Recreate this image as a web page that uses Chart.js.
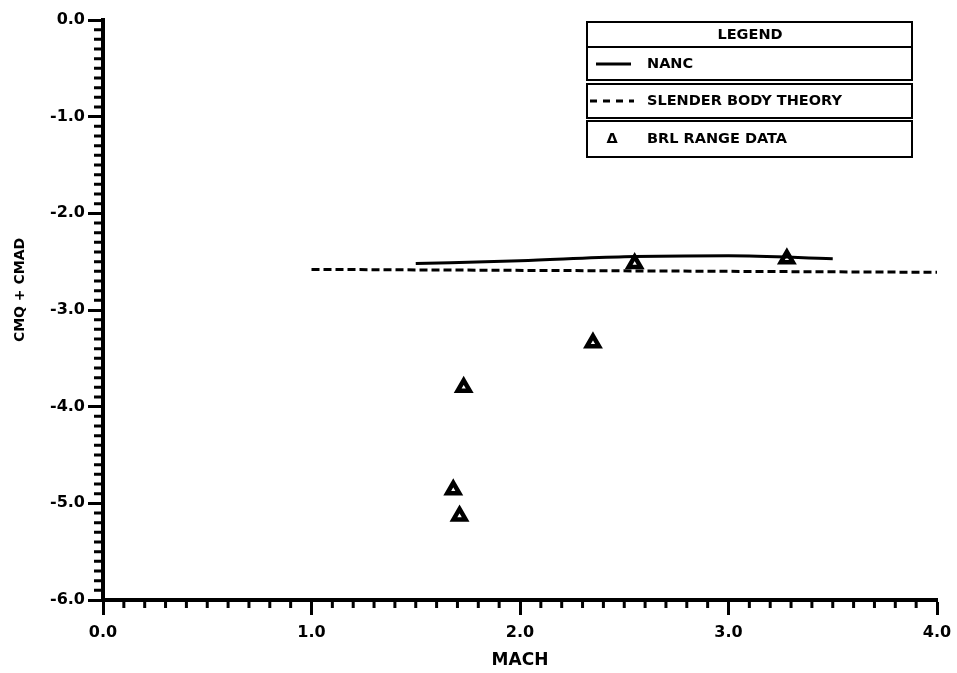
<!DOCTYPE html>
<html>
<head>
<meta charset="utf-8">
<script src="https://cdn.jsdelivr.net/npm/chart.js@4"></script>
<style>
  html, body { margin: 0; padding: 0; background: #fff; }
  #wrap { width: 957px; height: 673px; }
</style>
</head>
<body>
<div id="wrap"><canvas id="cmqChart" width="957" height="673"></canvas></div>
<script>
// NANC prediction
const nancMach = [1.5, 2.0, 2.5, 3.0, 3.5];
const nancCmq = [-2.52, -2.49, -2.45, -2.44, -2.47];

// slender body theory
const sbtMach = [1.0, 4.0];
const sbtCmq = [-2.58, -2.61];

// BRL range data
const brlMach = [2.55, 3.28, 2.35, 1.73, 1.68, 1.71];
const brlCmq = [-2.52, -2.47, -3.34, -3.80, -4.86, -5.13];

const xTicks = [0, 1, 2, 3, 4];
const yTicks = [0, -1, -2, -3, -4, -5, -6];

const legendRows = ['NANC', 'SLENDER BODY THEORY', 'BRL RANGE DATA'];
const yTitle = 'CMQ + CMAD';

const boldFont = '"DejaVu Sans", sans-serif';

function toPoints(xs, ys) {
    return xs.map((x, i) => ({ x: x, y: ys[i] }));
}

// minor ticks every 0.1 along both axes
const minorTicks = {
    id: 'minorTicks',
    afterDraw(chart) {
        const ctx = chart.ctx;
        const xs = chart.scales.x, ys = chart.scales.y;
        ctx.save();
        ctx.strokeStyle = '#000';
        ctx.lineWidth = 3;
        ctx.beginPath();
        for (let i = 1; i < 40; i++) {
            if (i % 10 === 0) continue;
            const px = xs.getPixelForValue(i / 10);
            ctx.moveTo(px, xs.top);
            ctx.lineTo(px, xs.top + 8);
        }
        for (let i = 1; i < 60; i++) {
            if (i % 10 === 0) continue;
            const py = ys.getPixelForValue(-i / 10);
            ctx.moveTo(ys.right, py);
            ctx.lineTo(ys.right - 9, py);
        }
        ctx.stroke();

        // y axis title, sits a bit above the middle in the original
        ctx.fillStyle = '#000';
        ctx.font = 'bold 14px ' + boldFont;
        ctx.textAlign = 'center';
        ctx.textBaseline = 'middle';
        ctx.translate(20, 290);
        ctx.rotate(-Math.PI / 2);
        ctx.fillText(yTitle, 0, 0);
        ctx.restore();
    }
};

// boxed legend in the top right corner
const boxLegend = {
    id: 'boxLegend',
    afterDraw(chart) {
        const ctx = chart.ctx;
        const left = 587, right = 912;
        const rows = [[22, 47], [47, 80], [84, 118], [121, 157]];
        ctx.save();
        ctx.strokeStyle = '#000';
        ctx.lineWidth = 2;
        rows.forEach(r => ctx.strokeRect(left, r[0], right - left, r[1] - r[0]));

        ctx.fillStyle = '#000';
        ctx.font = 'bold 14.5px ' + boldFont;
        ctx.textBaseline = 'middle';
        ctx.textAlign = 'center';
        ctx.fillText('LEGEND', 750, 35);

        ctx.textAlign = 'left';
        const mids = [64, 101, 139];
        legendRows.forEach((t, i) => ctx.fillText(t, 647, mids[i]));

        ctx.lineWidth = 3;
        ctx.beginPath();
        ctx.moveTo(596, mids[0]);
        ctx.lineTo(631, mids[0]);
        ctx.stroke();

        ctx.setLineDash([7, 6]);
        ctx.beginPath();
        ctx.moveTo(590, mids[1]);
        ctx.lineTo(634, mids[1]);
        ctx.stroke();
        ctx.setLineDash([]);

        ctx.textAlign = 'center';
        ctx.fillText('\u0394', 612, mids[2]);
        ctx.restore();
    }
};

const ctx = document.getElementById('cmqChart').getContext('2d');
new Chart(ctx, {
    type: 'scatter',
    data: {
        datasets: [{
            label: 'NANC',
            data: toPoints(nancMach, nancCmq),
            showLine: true,
            borderColor: '#000',
            borderWidth: 3,
            pointRadius: 0,
            tension: 0.4,
            cubicInterpolationMode: 'monotone'
        }, {
            label: 'SLENDER BODY THEORY',
            data: toPoints(sbtMach, sbtCmq),
            showLine: true,
            borderColor: '#000',
            borderWidth: 3,
            borderDash: [8, 4],
            pointRadius: 0
        }, {
            label: 'BRL RANGE DATA',
            data: toPoints(brlMach, brlCmq),
            showLine: false,
            pointStyle: 'triangle',
            pointRadius: 7,
            pointBorderWidth: 4.5,
            pointBackgroundColor: '#fff',
            pointBorderColor: '#000'
        }]
    },
    options: {
        responsive: false,
        animation: false,
        devicePixelRatio: 1,
        layout: { padding: { left: 0, right: 20, top: 20, bottom: 0 } },
        plugins: {
            legend: { display: false },
            tooltip: { enabled: false }
        },
        scales: {
            x: {
                type: 'linear',
                min: 0,
                max: 4,
                afterBuildTicks: s => { s.ticks = xTicks.map(v => ({ value: v })); },
                afterFit: s => { s.height = 73; s.paddingLeft = 0; s.paddingRight = 0; },
                border: { display: true, color: '#000', width: 4 },
                grid: { drawOnChartArea: false, drawTicks: true, tickLength: 15, tickColor: '#000', tickWidth: 3 },
                ticks: {
                    color: '#000',
                    padding: 8,
                    font: { family: boldFont, weight: 'bold', size: 16 },
                    callback: v => v.toFixed(1)
                },
                title: {
                    display: true,
                    text: 'MACH',
                    color: '#000',
                    padding: { top: 0, bottom: 2 },
                    font: { family: boldFont, weight: 'bold', size: 17 }
                }
            },
            y: {
                type: 'linear',
                min: -6,
                max: 0,
                afterBuildTicks: s => { s.ticks = yTicks.map(v => ({ value: v })); },
                afterFit: s => { s.width = 103; s.paddingTop = 0; s.paddingBottom = 0; },
                border: { display: true, color: '#000', width: 4 },
                grid: { drawOnChartArea: false, drawTicks: true, tickLength: 15, tickColor: '#000', tickWidth: 3 },
                ticks: {
                    color: '#000',
                    padding: 3,
                    font: { family: boldFont, weight: 'bold', size: 16 },
                    callback: v => v.toFixed(1)
                }
            }
        }
    },
    plugins: [minorTicks, boxLegend]
});
</script>
</body>
</html>
